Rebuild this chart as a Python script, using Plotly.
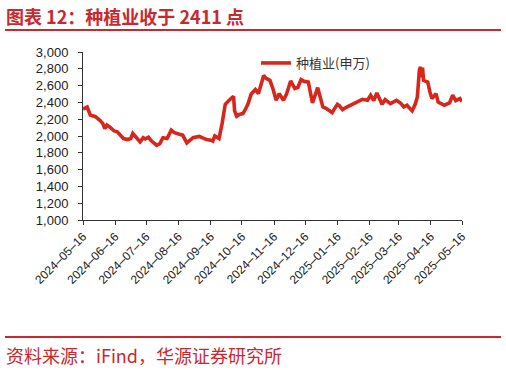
import plotly.graph_objects as go

dates = [
    "2024-05-16", "2024-05-20", "2024-05-23", "2024-05-28", "2024-06-01", "2024-06-04",
    "2024-06-06", "2024-06-08", "2024-06-11", "2024-06-15", "2024-06-18", "2024-06-21",
    "2024-06-24", "2024-06-28", "2024-07-01", "2024-07-03", "2024-07-06", "2024-07-10",
    "2024-07-13", "2024-07-15", "2024-07-18", "2024-07-21", "2024-07-26", "2024-07-29",
    "2024-08-01", "2024-08-05", "2024-08-09", "2024-08-12", "2024-08-17", "2024-08-20",
    "2024-08-24", "2024-08-27", "2024-08-30", "2024-09-05", "2024-09-09", "2024-09-12",
    "2024-09-16", "2024-09-18", "2024-09-20", "2024-09-24", "2024-09-27", "2024-09-30",
    "2024-10-05", "2024-10-08", "2024-10-09", "2024-10-11", "2024-10-14", "2024-10-17",
    "2024-10-20", "2024-10-22", "2024-10-25", "2024-10-29", "2024-11-01", "2024-11-04",
    "2024-11-06", "2024-11-08", "2024-11-12", "2024-11-15", "2024-11-18", "2024-11-21",
    "2024-11-25", "2024-11-28", "2024-12-02", "2024-12-06", "2024-12-09", "2024-12-12",
    "2024-12-15", "2024-12-19", "2024-12-21", "2024-12-23", "2024-12-28", "2024-12-31",
    "2025-01-02", "2025-01-05", "2025-01-08", "2025-01-11", "2025-01-13", "2025-01-16",
    "2025-01-18", "2025-01-21", "2025-01-25", "2025-01-31", "2025-02-04", "2025-02-09",
    "2025-02-14", "2025-02-17", "2025-02-20", "2025-02-23", "2025-02-28", "2025-03-03",
    "2025-03-08", "2025-03-11", "2025-03-14", "2025-03-18", "2025-03-21", "2025-03-24",
    "2025-03-29", "2025-04-01", "2025-04-03", "2025-04-05", "2025-04-06", "2025-04-07",
    "2025-04-08", "2025-04-09", "2025-04-13", "2025-04-15", "2025-04-17", "2025-04-21",
    "2025-04-23", "2025-04-29", "2025-05-04", "2025-05-07", "2025-05-10", "2025-05-14",
    "2025-05-16",
]

values = [
    2320, 2345, 2250, 2230, 2190, 2150,
    2090, 2130, 2105, 2060, 2050, 2010,
    1970, 1958, 1970, 2030, 1990, 1930,
    1980, 1965, 1985, 1940, 1890, 1910,
    1980, 1970, 2070, 2040, 2020, 2010,
    1918, 1945, 1980, 1995, 1975, 1958,
    1950, 1940, 2000, 1970, 2150, 2378,
    2440, 2473, 2300, 2235, 2260, 2267,
    2330, 2386, 2500, 2553, 2505, 2620,
    2720, 2690, 2663, 2560, 2425, 2505,
    2425, 2500, 2655, 2565, 2580, 2672,
    2650, 2643, 2530, 2394, 2576, 2450,
    2346, 2330, 2307, 2279, 2320, 2378,
    2360, 2315, 2345, 2378, 2400, 2437,
    2425, 2485, 2421, 2513, 2378, 2433,
    2386, 2410, 2425, 2390, 2346, 2366,
    2299, 2380, 2465, 2790, 2821, 2700,
    2815, 2663, 2643, 2530, 2445, 2505,
    2405, 2366, 2394, 2485, 2421, 2445,
    2411,
]

tick_dates = [
    "2024-05-16", "2024-06-16", "2024-07-16", "2024-08-16", "2024-09-16",
    "2024-10-16", "2024-11-16", "2024-12-16", "2025-01-16", "2025-02-16",
    "2025-03-16", "2025-04-16", "2025-05-16",
]
tick_labels = [d.replace("-", "–") for d in tick_dates]

y_ticks = [1000, 1200, 1400, 1600, 1800, 2000, 2200, 2400, 2600, 2800, 3000]
y_labels = [f"{v:,}" for v in y_ticks]

series_name = "种植业(申万)"
title_text = "图表 12：种植业收于 2411 点"
source_text = "资料来源：iFind，华源证券研究所"

RED = "#C9282D"
LINE = "#D9261C"
AXIS = "#333333"
CJK = "Noto Sans CJK SC"
LAT = "Liberation Sans, Arial, sans-serif"

fig = go.Figure()
fig.add_trace(go.Scatter(
    x=dates, y=values, mode="lines", name=series_name,
    line=dict(color=LINE, width=3.6),
))

W, H = 506, 370
L, R, T, B = 83, 44, 52, 150
pw, ph = W - L - R, H - T - B


def px(xp):
    return (xp - L) / pw


def py(yp):
    return (H - B - yp) / ph


fig.update_layout(
    width=W, height=H,
    margin=dict(l=L, r=R, t=T, b=B, autoexpand=False),
    paper_bgcolor="white", plot_bgcolor="white",
    showlegend=True,
    legend=dict(
        x=px(256), y=py(48), xanchor="left", yanchor="top",
        font=dict(family=CJK, size=13, color="#333333"),
        bgcolor="rgba(0,0,0,0)",
    ),
    xaxis=dict(
        type="date", range=["2024-05-16", "2025-05-16"],
        tickvals=tick_dates, ticktext=tick_labels, tickangle=-45,
        showgrid=False, zeroline=False,
        showline=True, linecolor=AXIS, linewidth=1,
        ticks="outside", ticklen=4, tickcolor=AXIS,
        tickfont=dict(family=LAT, size=12, color="#222222"),
    ),
    yaxis=dict(
        range=[1000, 3000], tickvals=y_ticks, ticktext=y_labels,
        showgrid=False, zeroline=False,
        showline=True, linecolor=AXIS, linewidth=1,
        ticks="outside", ticklen=4, tickcolor=AXIS,
        ticklabelstandoff=7,
        tickfont=dict(family=LAT, size=13, color="#222222"),
    ),
)

fig.add_annotation(
    text=f"<b>{title_text}</b>", xref="paper", yref="paper",
    x=px(4), y=py(16), xanchor="left", yanchor="middle", showarrow=False,
    font=dict(family=CJK, size=18, color=RED),
)
fig.add_annotation(
    text=source_text, xref="paper", yref="paper",
    x=px(4), y=py(355), xanchor="left", yanchor="middle", showarrow=False,
    font=dict(family=CJK, size=18, color=RED),
)
for yline in (30, 337):
    fig.add_shape(
        type="line", xref="paper", yref="paper",
        x0=px(5), x1=px(501), y0=py(yline), y1=py(yline),
        line=dict(color=RED, width=2),
    )

fig.write_html(
    "out.html",
    config={"displayModeBar": False},
    post_script="document.body.style.margin='0px';document.body.style.overflow='hidden';",
)
